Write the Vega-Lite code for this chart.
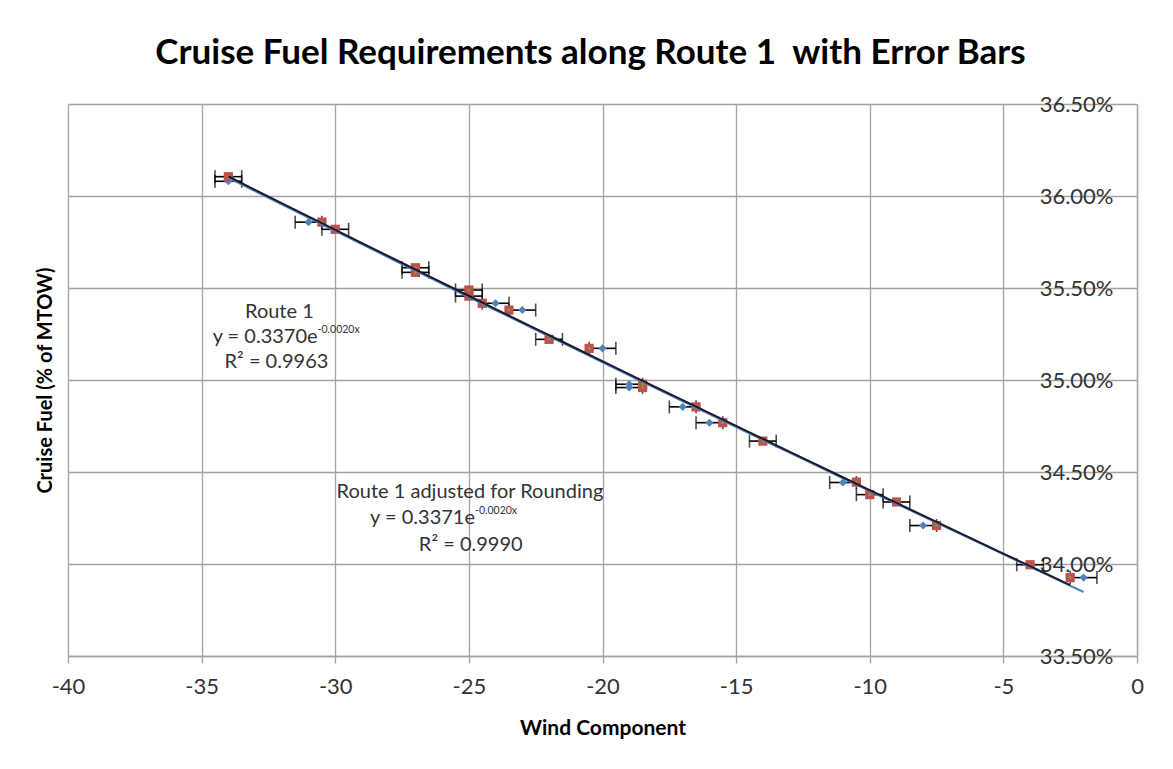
{
  "$schema": "https://vega.github.io/schema/vega-lite/v6.json",
  "autosize": {"type": "none"},
  "width": 1069,
  "height": 552,
  "padding": {"left": 68, "top": 104, "right": 36, "bottom": 113},
  "background": "white",
  "title": {
    "text": "Cruise Fuel Requirements along Route 1\u00a0 with Error Bars",
    "font": "Lato",
    "fontSize": 35,
    "fontWeight": "bold",
    "color": "black",
    "anchor": "middle",
    "frame": "group",
    "offset": 22,
    "dx": -12
  },
  "config": {
    "view": {"stroke": null},
    "text": {"font": "Lato", "fontSize": 20, "color": "#333333"}
  },
  "datasets": {
    "route1": [
      {"wind": -34, "fuel": 0.36105, "err": 0.5},
      {"wind": -34, "fuel": 0.3608, "err": 0.5},
      {"wind": -31, "fuel": 0.35858, "err": 0.5},
      {"wind": -30, "fuel": 0.35819, "err": 0.5},
      {"wind": -27, "fuel": 0.3561, "err": 0.5},
      {"wind": -27, "fuel": 0.35585, "err": 0.5},
      {"wind": -25, "fuel": 0.35489, "err": 0.5},
      {"wind": -25, "fuel": 0.35456, "err": 0.5},
      {"wind": -24, "fuel": 0.35417, "err": 0.5},
      {"wind": -23, "fuel": 0.3538, "err": 0.5},
      {"wind": -22, "fuel": 0.35221, "err": 0.5},
      {"wind": -20, "fuel": 0.35172, "err": 0.5},
      {"wind": -19, "fuel": 0.34977, "err": 0.5},
      {"wind": -19, "fuel": 0.34959, "err": 0.5},
      {"wind": -17, "fuel": 0.34854, "err": 0.5},
      {"wind": -16, "fuel": 0.34768, "err": 0.5},
      {"wind": -14, "fuel": 0.34668, "err": 0.5},
      {"wind": -11, "fuel": 0.34443, "err": 0.5},
      {"wind": -10, "fuel": 0.34377, "err": 0.5},
      {"wind": -9, "fuel": 0.34337, "err": 0.5},
      {"wind": -8, "fuel": 0.34209, "err": 0.5},
      {"wind": -4, "fuel": 0.33996, "err": 0.5},
      {"wind": -2, "fuel": 0.33926, "err": 0.5}
    ],
    "adjusted": [
      {"wind": -34, "fuel": 0.36105},
      {"wind": -30.5, "fuel": 0.35858},
      {"wind": -30, "fuel": 0.35819},
      {"wind": -27, "fuel": 0.3561},
      {"wind": -27, "fuel": 0.35585},
      {"wind": -25, "fuel": 0.35489},
      {"wind": -25, "fuel": 0.35456},
      {"wind": -24.5, "fuel": 0.35417},
      {"wind": -23.5, "fuel": 0.3538},
      {"wind": -22, "fuel": 0.35221},
      {"wind": -20.5, "fuel": 0.35172},
      {"wind": -18.5, "fuel": 0.34977},
      {"wind": -18.5, "fuel": 0.34959},
      {"wind": -16.5, "fuel": 0.34854},
      {"wind": -15.5, "fuel": 0.34768},
      {"wind": -14, "fuel": 0.34668},
      {"wind": -10.5, "fuel": 0.34445},
      {"wind": -10, "fuel": 0.34377},
      {"wind": -9, "fuel": 0.34337},
      {"wind": -7.5, "fuel": 0.34209},
      {"wind": -4, "fuel": 0.33996},
      {"wind": -2.5, "fuel": 0.33926}
    ],
    "labelLines": [
      {"wind": -32.09, "fuel": 0.35371, "text": "Route 1"},
      {"wind": -32.2, "fuel": 0.35099, "text": "R² = 0.9963"},
      {"wind": -24.96, "fuel": 0.34393, "text": "Route 1 adjusted for Rounding"},
      {"wind": -24.93, "fuel": 0.34103, "text": "R² = 0.9990"}
    ],
    "eqMain": [
      {"wind": -30.66, "fuel": 0.35235, "text": "y = 0.3370e"},
      {"wind": -24.77, "fuel": 0.34248, "text": "y = 0.3371e"}
    ],
    "eqSup": [
      {"wind": -30.66, "fuel": 0.35235, "text": "-0.0020x"},
      {"wind": -24.77, "fuel": 0.34248, "text": "-0.0020x"}
    ]
  },
  "resolve": {"scale": {"x": "shared", "y": "shared"}, "axis": {"y": "independent"}},
  "layer": [
    {
      "data": {"name": "route1"},
      "mark": {"type": "point", "opacity": 0},
      "encoding": {
        "x": {
          "field": "wind", "type": "quantitative", "title": "Wind Component",
          "scale": {"domain": [-40, 0], "nice": false, "zero": false},
          "axis": {
            "title": "Wind Component",
            "titleFont": "Lato", "titleFontSize": 21, "titleFontWeight": "bold", "titleColor": "black",
            "titlePadding": 20,
            "values": [-40, -35, -30, -25, -20, -15, -10, -5, 0],
            "labelExpr": "'' + datum.value",
            "labelFont": "Lato", "labelFontSize": 22, "labelColor": "#333333",
            "labelPadding": 13, "labelFlush": false, "labelOverlap": false,
            "grid": true, "gridColor": "#a3a3a3", "gridWidth": 1.3,
            "domainColor": "#a3a3a3", "domainWidth": 1.3,
            "tickColor": "#a3a3a3", "tickSize": 7, "tickWidth": 1.3
          }
        },
        "y": {
          "field": "fuel", "type": "quantitative",
          "scale": {"domain": [0.335, 0.365], "nice": false, "zero": false},
          "axis": {
            "orient": "left",
            "title": "Cruise Fuel (% of MTOW)",
            "titleFont": "Lato", "titleFontSize": 20, "titleFontWeight": "bold", "titleColor": "black",
            "titlePadding": 13,
            "labels": false, "ticks": false, "domain": false,
            "values": [0.335, 0.34, 0.345, 0.35, 0.355, 0.36, 0.365],
            "grid": true, "gridColor": "#a3a3a3", "gridWidth": 1.3
          }
        }
      }
    },
    {
      "data": {"name": "route1"},
      "mark": {"type": "point", "opacity": 0},
      "encoding": {
        "x": {"field": "wind", "type": "quantitative", "title": "Wind Component"},
        "y": {
          "field": "fuel", "type": "quantitative",
          "axis": {
            "orient": "right",
            "title": null,
            "format": ".2%",
            "values": [0.335, 0.34, 0.345, 0.35, 0.355, 0.36, 0.365],
            "labelFont": "Lato", "labelFontSize": 22, "labelColor": "#333333",
            "labelAlign": "right", "labelBaseline": "middle", "labelPadding": -24,
            "labelOverlap": false, "labelFlush": false,
            "ticks": false, "grid": false,
            "domainColor": "#a3a3a3", "domainWidth": 1.3
          }
        }
      }
    },
    {
      "data": {"name": "route1"},
      "mark": {"type": "errorbar", "ticks": {"size": 13, "color": "black", "thickness": 1.6}, "rule": {"color": "black", "strokeWidth": 1.6}},
      "encoding": {
        "x": {"field": "wind", "type": "quantitative", "title": "Wind Component"},
        "xError": {"field": "err"},
        "y": {"field": "fuel", "type": "quantitative", "axis": null}
      }
    },
    {
      "data": {"name": "route1"},
      "mark": {"type": "point", "shape": "diamond", "filled": true, "size": 65, "color": "#4f81bd", "opacity": 1},
      "encoding": {
        "x": {"field": "wind", "type": "quantitative", "title": "Wind Component"},
        "y": {"field": "fuel", "type": "quantitative", "axis": null}
      }
    },
    {
      "data": {"name": "adjusted"},
      "mark": {"type": "point", "shape": "square", "filled": true, "size": 85, "color": "#c0504d", "opacity": 1},
      "encoding": {
        "x": {"field": "wind", "type": "quantitative", "title": "Wind Component"},
        "y": {"field": "fuel", "type": "quantitative", "axis": null}
      }
    },
    {
      "data": {"name": "adjusted"},
      "mark": {"type": "point", "shape": "circle", "filled": true, "size": 7, "color": "#7fa33a", "opacity": 1},
      "encoding": {
        "x": {"field": "wind", "type": "quantitative", "title": "Wind Component"},
        "y": {"field": "fuel", "type": "quantitative", "axis": null}
      }
    },
    {
      "data": {"name": "route1"},
      "transform": [{"regression": "fuel", "on": "wind", "method": "exp", "extent": [-34, -2]}],
      "mark": {"type": "line", "color": "#4f81bd", "strokeWidth": 2},
      "encoding": {
        "x": {"field": "wind", "type": "quantitative", "title": "Wind Component"},
        "y": {"field": "fuel", "type": "quantitative", "axis": null}
      }
    },
    {
      "data": {"name": "adjusted"},
      "transform": [{"regression": "fuel", "on": "wind", "method": "exp", "extent": [-34, -2.5]}],
      "mark": {"type": "line", "color": "#1a1a2e", "strokeWidth": 2},
      "encoding": {
        "x": {"field": "wind", "type": "quantitative", "title": "Wind Component"},
        "y": {"field": "fuel", "type": "quantitative", "axis": null}
      }
    },
    {
      "data": {"name": "labelLines"},
      "mark": {"type": "text", "align": "center", "baseline": "middle"},
      "encoding": {
        "x": {"field": "wind", "type": "quantitative", "title": "Wind Component"},
        "y": {"field": "fuel", "type": "quantitative", "axis": null},
        "text": {"field": "text"}
      }
    },
    {
      "data": {"name": "eqMain"},
      "mark": {"type": "text", "align": "right", "baseline": "middle"},
      "encoding": {
        "x": {"field": "wind", "type": "quantitative", "title": "Wind Component"},
        "y": {"field": "fuel", "type": "quantitative", "axis": null},
        "text": {"field": "text"}
      }
    },
    {
      "data": {"name": "eqSup"},
      "mark": {"type": "text", "align": "left", "baseline": "middle", "fontSize": 10.5, "dy": -7},
      "encoding": {
        "x": {"field": "wind", "type": "quantitative", "title": "Wind Component"},
        "y": {"field": "fuel", "type": "quantitative", "axis": null},
        "text": {"field": "text"}
      }
    }
  ]
}
